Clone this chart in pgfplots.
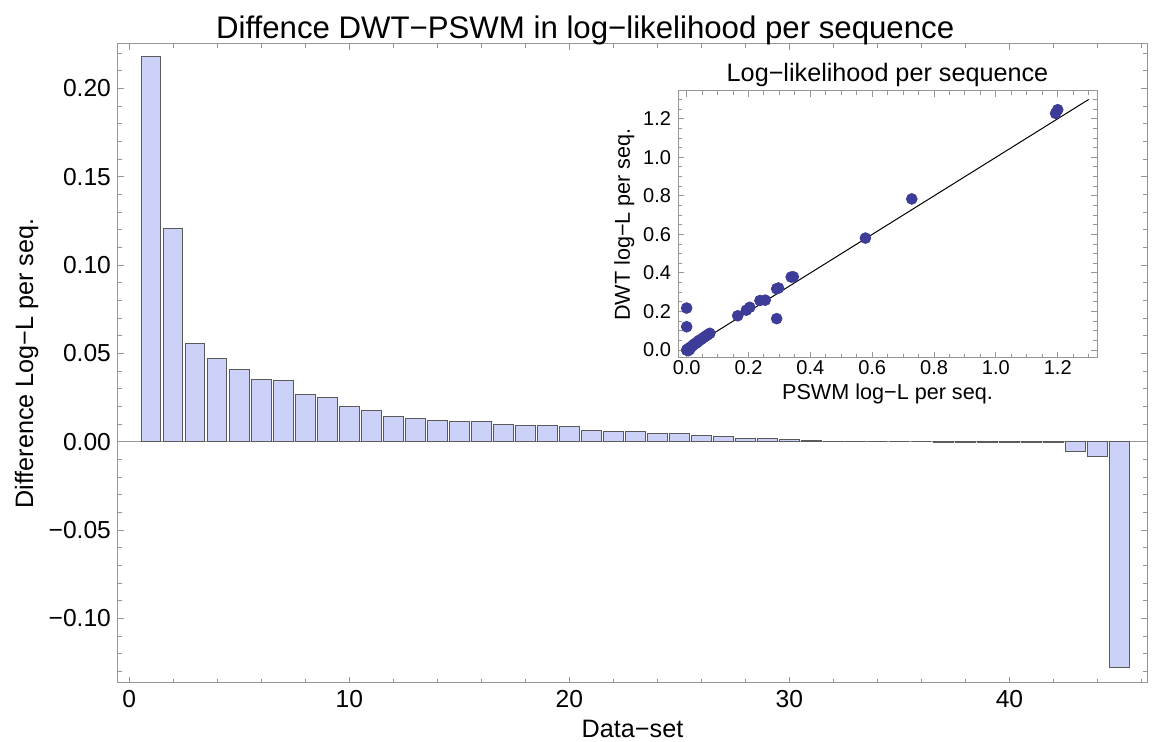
\documentclass[border=0pt]{standalone}
\usepackage{pgfplots}
\pgfplotsset{compat=1.18}
\usepackage{fontspec}
\setmainfont{Liberation Sans}
\definecolor{barfill}{RGB}{204,210,247}
\definecolor{baredge}{RGB}{90,90,90}
\definecolor{dotcol}{RGB}{61,61,153}
\definecolor{framecol}{RGB}{150,150,150}
\begin{document}
\begin{tikzpicture}
% main bar chart: difference per data set
\begin{axis}[
  at={(0,0)}, anchor=south west,
  scale only axis, width=514.5pt, height=319.5pt,
  xmin=-0.51, xmax=46.25, ymin=-0.1366, ymax=0.2252,
  axis line style={framecol, line width=0.5pt},
  tick style={framecol, line width=0.5pt},
  tick align=inside,
  major tick length=3pt, minor tick length=2pt,
  xtick={0,10,20,30,40},
  minor xtick={2,4,6,8,12,14,16,18,22,24,26,28,32,34,36,38,42,44,46},
  ytick={-0.10,-0.05,0,0.05,0.10,0.15,0.20},
  yticklabels={−0.10,−0.05,0.00,0.05,0.10,0.15,0.20},
  minor ytick={-0.13,-0.12,-0.11,-0.09,-0.08,-0.07,-0.06,-0.04,-0.03,-0.02,-0.01,0.01,0.02,0.03,0.04,0.06,0.07,0.08,0.09,0.11,0.12,0.13,0.14,0.16,0.17,0.18,0.19,0.21,0.22},
  tick label style={font=\fontsize{12.3}{14}\selectfont, black},
  /pgf/number format/assume math mode=true,
  xlabel={Data−set},
  ylabel={Difference Log−L per seq.},
  xlabel style={at={(axis description cs:0.5,0)}, anchor=base, inner sep=0pt, yshift=-27.5pt, font=\fontsize{12.6}{15}\selectfont},
  ylabel style={at={(axis description cs:-0.0826,0.5)}, anchor=base, font=\fontsize{12.6}{15}\selectfont},
  title={Diffence DWT−PSWM in log−likelihood per sequence},
  every axis title/.style={at={(axis description cs:0.454,1)}, anchor=south, yshift=-4pt, font=\fontsize{15.6}{18}\selectfont},
]
\draw[framecol, line width=0.5pt] (axis cs:-0.51,0) -- (axis cs:46.25,0);
\addplot[ybar, bar width=0.886, fill=barfill, draw=baredge, line width=0.5pt] coordinates {
  (1,0.2183) (2,0.1206) (3,0.0558) (4,0.0470) (5,0.0411) (6,0.0353)
  (7,0.0347) (8,0.0266) (9,0.0249) (10,0.0200) (11,0.0179) (12,0.0142)
  (13,0.0132) (14,0.0122) (15,0.0113) (16,0.0113) (17,0.0096) (18,0.0094)
  (19,0.0094) (20,0.0088) (21,0.0064) (22,0.0060) (23,0.0060) (24,0.0049)
  (25,0.0047) (26,0.0034) (27,0.0030) (28,0.0021) (29,0.0019) (30,0.0010)
  (31,0.0005) (32,0.0002) (33,0.0002) (34,0.0000) (35,0.0000) (36,0.0000)
  (37,-0.0002) (38,-0.0002) (39,-0.0002) (40,-0.0002) (41,-0.0002) (42,-0.0002)
  (43,-0.0057) (44,-0.0081) (45,-0.1278)
};
\end{axis}
% inset scatter: DWT vs PSWM
\begin{axis}[
  at={(280pt,162.5pt)}, anchor=south west,
  scale only axis, width=209.5pt, height=133.5pt,
  xmin=-0.028, xmax=1.327, ymin=-0.041, ymax=1.344,
  axis line style={framecol, line width=0.5pt},
  tick style={framecol, line width=0.5pt},
  tick align=inside,
  major tick length=3pt, minor tick length=2pt,
  xtick={0,0.2,0.4,0.6,0.8,1.0,1.2},
  xticklabels={0.0,0.2,0.4,0.6,0.8,1.0,1.2},
  ytick={0,0.2,0.4,0.6,0.8,1.0,1.2},
  yticklabels={0.0,0.2,0.4,0.6,0.8,1.0,1.2},
  minor xtick={0.05,0.1,0.15,0.25,0.3,0.35,0.45,0.5,0.55,0.65,0.7,0.75,0.85,0.9,0.95,1.05,1.1,1.15,1.25,1.3},
  minor ytick={0.05,0.1,0.15,0.25,0.3,0.35,0.45,0.5,0.55,0.65,0.7,0.75,0.85,0.9,0.95,1.05,1.1,1.15,1.25,1.3},
  tick label style={font=\fontsize{10}{12}\selectfont, black},
  xticklabel style={yshift=2.5pt},
  xlabel={PSWM log−L per seq.},
  ylabel={DWT log−L per seq.},
  xlabel style={at={(axis description cs:0.5,0)}, anchor=base, yshift=-21pt, font=\fontsize{10.8}{13}\selectfont},
  ylabel style={at={(axis description cs:-0.1146,0.5)}, anchor=base, font=\fontsize{10.8}{13}\selectfont},
  title={Log−likelihood per sequence},
  every axis title/.style={at={(axis description cs:0.5,1)}, anchor=south, yshift=-1.5pt, font=\fontsize{12.6}{15}\selectfont},
]
\addplot[black, line width=0.5pt] coordinates {(0,0) (1.3,1.3)};
\addplot[only marks, mark=*, mark size=2.7pt, color=dotcol] coordinates {
  (0.000,0.218) (0.000,0.121) (0.728,0.784) (1.200,1.247) (0.338,0.379)
  (1.193,1.228) (0.345,0.380) (0.291,0.318) (0.297,0.322) (0.237,0.257)
  (0.204,0.222) (0.193,0.207) (0.165,0.178) (0.075,0.087) (0.068,0.079)
  (0.062,0.073) (0.055,0.065) (0.048,0.057) (0.043,0.052) (0.038,0.047)
  (0.034,0.040) (0.030,0.036) (0.026,0.032) (0.254,0.259) (0.022,0.027)
  (0.018,0.021) (0.578,0.581) (0.014,0.016) (0.010,0.012) (0.007,0.008)
  (0.005,0.006) (0.003,0.003) (0.002,0.002) (0.001,0.001) (0.000,0.000)
  (0.010,0.004) (0.005,-0.003) (0.291,0.163)
};
\end{axis}
\pgfresetboundingbox
\path (-59pt,-29.5pt) rectangle (517pt,341.5pt);
\end{tikzpicture}
\end{document}
